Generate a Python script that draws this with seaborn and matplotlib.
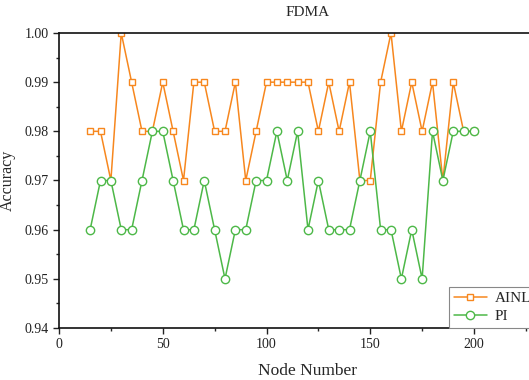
import pandas as pd
import seaborn as sns
import numpy as np
import matplotlib.pyplot as plt
from matplotlib.ticker import MultipleLocator

node_number = [15, 20, 25, 30, 35, 40, 45, 50, 55, 60, 65, 70, 75, 80, 85, 90, 95,
               100, 105, 110, 115, 120, 125, 130, 135, 140, 145, 150, 155, 160, 165,
               170, 175, 180, 185, 190, 195, 200]
ainl = [0.98, 0.98, 0.97, 1.00, 0.99, 0.98, 0.98, 0.99, 0.98, 0.97, 0.99, 0.99, 0.98,
        0.98, 0.99, 0.97, 0.98, 0.99, 0.99, 0.99, 0.99, 0.99, 0.98, 0.99, 0.98, 0.99,
        0.97, 0.97, 0.99, 1.00, 0.98, 0.99, 0.98, 0.99, 0.97, 0.99, 0.98, 0.98]
pi = [0.96, 0.97, 0.97, 0.96, 0.96, 0.97, 0.98, 0.98, 0.97, 0.96, 0.96, 0.97, 0.96,
      0.95, 0.96, 0.96, 0.97, 0.97, 0.98, 0.97, 0.98, 0.96, 0.97, 0.96, 0.96, 0.96,
      0.97, 0.98, 0.96, 0.96, 0.95, 0.96, 0.95, 0.98, 0.97, 0.98, 0.98, 0.98]

df = pd.DataFrame({'Node Number': node_number, 'AINL': ainl, 'PI': pi})

sns.set_style('ticks')
plt.rcParams['font.family'] = ['Liberation Serif', 'DejaVu Serif']

fig = plt.figure(figsize=(5.29, 3.80), dpi=100)
ax = fig.add_axes([59/529, 52/380, 498/529, 295/380])

sns.lineplot(data=df, x='Node Number', y='AINL', ax=ax, color='#F7871E', lw=1.1,
             marker='s', ms=5, mfc='white', mec='#F7871E', mew=1.0, label='AINL')
sns.lineplot(data=df, x='Node Number', y='PI', ax=ax, color='#4DB848', lw=1.1,
             marker='o', ms=6, mfc='white', mec='#4DB848', mew=1.0, label='PI')

ax.set_xlim(0, 240)
ax.set_ylim(0.94, 1.00)
ax.xaxis.set_major_locator(MultipleLocator(50))
ax.xaxis.set_minor_locator(MultipleLocator(25))
ax.yaxis.set_major_locator(MultipleLocator(0.01))
ax.yaxis.set_minor_locator(MultipleLocator(0.005))
ax.yaxis.set_major_formatter(plt.FormatStrFormatter('%.2f'))
ax.tick_params(which='major', direction='out', length=4, width=1, labelsize=10, colors='#222222')
ax.tick_params(which='minor', direction='out', length=2.5, width=1)
for s in ax.spines.values():
    s.set_linewidth(1.2)
    s.set_color('#111111')

ax.set_xlabel('Node Number', fontsize=12.5, labelpad=8)
ax.set_ylabel('Accuracy', fontsize=11.5, labelpad=6)
ax.set_title('FDMA', fontsize=11, pad=12)

leg = ax.legend(loc='lower left', bbox_to_anchor=(449/529, 52/380), bbox_transform=fig.transFigure,
                fontsize=11, fancybox=False, edgecolor='#888888', framealpha=1,
                borderaxespad=0, handlelength=2.2, handletextpad=0.5,
                borderpad=0.3, labelspacing=0.3)
leg.get_frame().set_linewidth(0.8)

fig.savefig('out.png', dpi=100)
